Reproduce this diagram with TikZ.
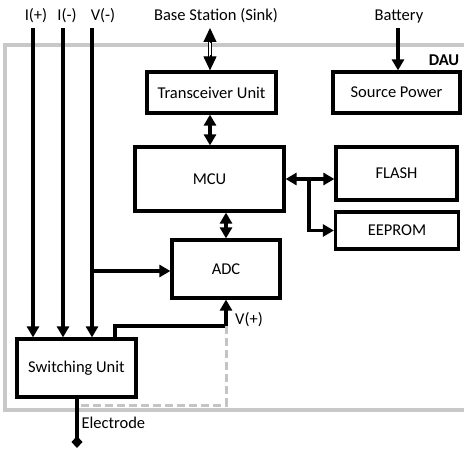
\documentclass[tikz,border=0pt]{standalone}
\usepackage{fontspec}
\setmainfont{Carlito}
\usetikzlibrary{arrows.meta}
\definecolor{framegray}{RGB}{200,200,200}
\definecolor{dashgray}{RGB}{196,196,196}

\begin{document}
\begin{tikzpicture}[x=1pt,y=-1pt,>={Triangle[length=11pt,width=12pt]},
    every node/.style={align=center,font=\fontsize{16.5}{19}\selectfont},
    unit/.style={draw,line width=3.2pt,inner sep=0pt},
    link/.style={->,line width=3.2pt},
    biglink/.style={<->,line width=3.2pt},
    radio/.style={double,line width=1.2pt,double distance=2.4pt,shorten <=13pt,shorten >=13pt},
    radiotip/.style={{Triangle[length=14pt,width=13pt]}-,line width=1pt}]
  \useasboundingbox (0,0) rectangle (464,452);
  % DAU frame
  \draw[framegray,line width=3.5pt] (464,45) -- (5,45) -- (5,410) -- (464,410);
  \node[font=\bfseries\fontsize{16.5}{19}\selectfont] (dau) at (444,60) {DAU};
  % outside labels
  \node (ip) at (36,16) {I(+)};
  \node (im) at (67,16) {I(-)};
  \node (vm) at (103,16) {V(-)};
  \node (bs) at (216,16) {Base Station (Sink)};
  \node (bat) at (399,17) {Battery};
  % units
  \node[unit,minimum width=129,minimum height=41] (tu) at (211.5,92.5) {Transceiver Unit};
  \node[unit,minimum width=127,minimum height=41] (sp) at (396.5,92.5) {Source Power};
  \node[unit,minimum width=149,minimum height=64] (mcu) at (209.5,179) {MCU};
  \node[unit,minimum width=121,minimum height=53] (flash) at (396.5,173.5) {FLASH};
  \node[unit,minimum width=123,minimum height=37] (eeprom) at (397,230.5) {EEPROM};
  \node[unit,minimum width=108,minimum height=58] (adc) at (226,269) {ADC};
  \node[unit,minimum width=119,minimum height=58] (su) at (76.5,368) {Switching Unit};
  % free ends
  \coordinate (ipt) at (33,28);
  \coordinate (imt) at (63,28);
  \coordinate (vmt) at (92,28);
  \coordinate (vmb) at (92,271);
  \coordinate (bst) at (210,28);
  \coordinate (batt) at (398,28);
  \coordinate (br) at (309,180);
  \coordinate (vp) at (226,326);
  \coordinate (ej) at (77,405);
  \coordinate (el) at (77,448);
  % connectors
  \draw[radio] (bst) -- (bst |- tu.north);
  \draw[radiotip] (bst) -- ++(0,15);
  \draw[radiotip] (bst |- tu.north) -- ++(0,-15);
  \draw[link] (batt) -- (batt |- sp.north);
  \draw[biglink] (tu.south -| bst) -- (mcu.north -| bst);
  \draw[biglink] (mcu.south -| adc.north) -- (adc.north);
  \draw[biglink] (mcu.east) -- (mcu.east -| flash.west);
  \draw[link] (br) |- (eeprom.west);
  \draw[link] (ipt) -- (ipt |- su.north);
  \draw[link] (imt) -- (imt |- su.north);
  \draw[link] (vmt) -- (vmt |- su.north);
  \draw[link] (vmb) -- (vmb -| adc.west);
  \draw[link] ([xshift=38.5pt]su.north) |- (vp) -- (adc.south);
  \draw[dashgray,line width=3pt,dash pattern=on 8pt off 4pt] (vp) |- (ej);
  \draw[-{Diamond[length=12pt,width=11pt]},line width=3.2pt] (su.south -| ej) -- (el);
  \node (vpl) at (249,320) {V(+)};
  \node[anchor=west] (ell) at (78,423) {Electrode};
\end{tikzpicture}
\end{document}
